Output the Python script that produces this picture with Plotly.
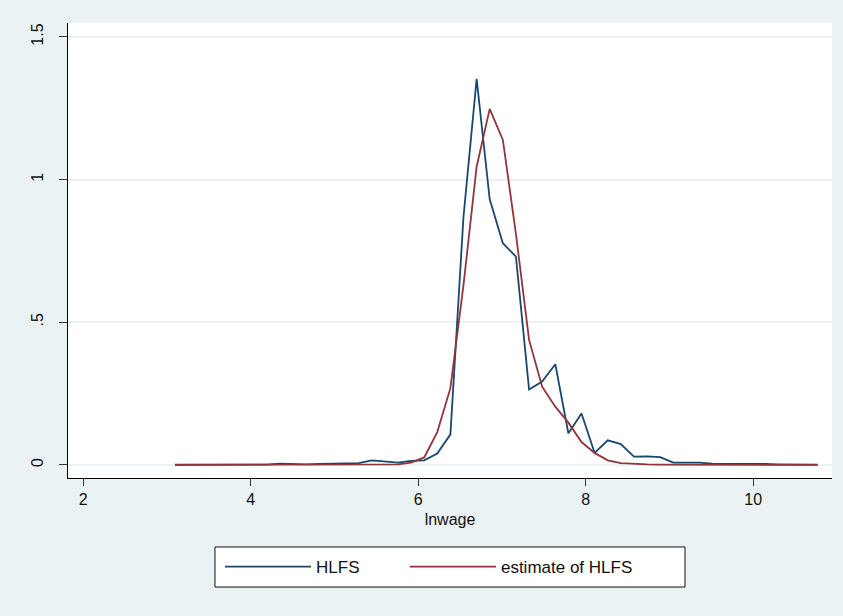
import plotly.graph_objects as go

# data
lnwage = [3.098, 3.255, 3.411, 3.568, 3.724, 3.881, 4.037, 4.194, 4.350, 4.507,
          4.663, 4.820, 4.976, 5.133, 5.289, 5.446, 5.602, 5.759, 5.915, 6.072,
          6.228, 6.385, 6.541, 6.698, 6.854, 7.011, 7.167, 7.324, 7.480, 7.637,
          7.793, 7.950, 8.106, 8.263, 8.419, 8.576, 8.732, 8.889, 9.045, 9.202,
          9.358, 9.515, 9.671, 9.828, 9.984, 10.141, 10.297, 10.454, 10.610, 10.767]

hlfs = [0.0005, 0.0005, 0.0005, 0.0005, 0.0008, 0.001, 0.001, 0.001, 0.004, 0.002,
        0.002, 0.003, 0.004, 0.004, 0.006, 0.016, 0.012, 0.008, 0.014, 0.016,
        0.040, 0.107, 0.870, 1.353, 0.931, 0.777, 0.730, 0.264, 0.292, 0.353,
        0.111, 0.180, 0.042, 0.086, 0.073, 0.029, 0.030, 0.027, 0.008, 0.008,
        0.008, 0.004, 0.004, 0.003, 0.005, 0.003, 0.002, 0.001, 0.001, 0.0005]

estimate = [0.0, 0.0, 0.0, 0.0, 0.0, 0.0, 0.0, 0.0, 0.0005, 0.0005,
            0.0005, 0.0008, 0.001, 0.001, 0.001, 0.001, 0.001, 0.002, 0.008, 0.026,
            0.115, 0.269, 0.630, 1.045, 1.248, 1.139, 0.810, 0.438, 0.274, 0.204,
            0.148, 0.080, 0.042, 0.016, 0.006, 0.003, 0.002, 0.001, 0.001, 0.001,
            0.001, 0.0005, 0.0005, 0.0005, 0.0005, 0.0, 0.0, 0.0, 0.0, 0.0]

series_names = ["HLFS", "estimate of HLFS"]
x_ticks = [2, 4, 6, 8, 10]
y_ticks = [0, 0.5, 1, 1.5]
y_tick_labels = ["0", ".5", "1", "1.5"]

BLUE = "#1A476F"
RED = "#90353B"
BG = "#EAF2F3"
FONT = "Liberation Sans, Arial, sans-serif"

fig = go.Figure()
fig.add_trace(go.Scatter(x=lnwage, y=hlfs, mode="lines", name=series_names[0],
                         line=dict(color=BLUE, width=1.8), legend="legend"))
fig.add_trace(go.Scatter(x=lnwage, y=estimate, mode="lines", name=series_names[1],
                         line=dict(color=RED, width=1.8), legend="legend2"))

leg_common = dict(orientation="h", yanchor="middle", y=-0.1956, xanchor="left",
                  bgcolor="rgba(0,0,0,0)", borderwidth=0, font=dict(size=17),
                  itemwidth=86)

fig.update_layout(
    width=843, height=616,
    margin=dict(l=68, r=11, t=23, b=138),
    paper_bgcolor=BG, plot_bgcolor="white",
    font=dict(family=FONT, size=16, color="#111111"),
    showlegend=True,
    legend=dict(x=0.199, **leg_common),
    legend2=dict(x=0.441, **leg_common),
    shapes=[dict(type="rect", xref="paper", yref="paper",
                 x0=0.1924, x1=0.8076, y0=-0.1516, y1=-0.2396,
                 line=dict(color="#111111", width=1), fillcolor="white",
                 layer="above")],
    xaxis=dict(range=[1.82, 10.94], tickvals=x_ticks, showgrid=False, zeroline=False,
               showline=True, linecolor="black", linewidth=1,
               ticks="outside", ticklen=7, tickcolor="#333333",
               tickfont=dict(size=16),
               title=dict(text="lnwage", font=dict(size=16), standoff=6)),
    yaxis=dict(range=[-0.046, 1.549], tickvals=y_ticks, ticktext=y_tick_labels,
               tickangle=-90, showgrid=True, gridcolor=BG, gridwidth=1.5, zeroline=False,
               showline=True, linecolor="black", linewidth=1,
               ticks="outside", ticklen=8, tickcolor="#333333",
               tickfont=dict(size=16), ticklabelstandoff=10),
)

fig.write_html("out.html", config={"displayModeBar": False},
               post_script="document.body.style.margin='0';document.body.style.overflow='hidden';")
